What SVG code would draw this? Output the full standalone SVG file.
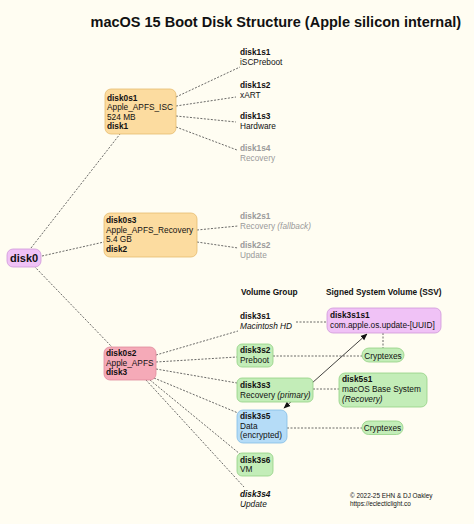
<svg xmlns="http://www.w3.org/2000/svg" width="474" height="524" viewBox="0 0 474 524">
<style>
text{font-family:"Liberation Sans",Arial,sans-serif;font-size:8.3px;fill:#111}
.b{font-weight:bold}
.i{font-style:italic}
.g{fill:#9a9a9a}
.title{font-size:14.5px;font-weight:bold}
.d{fill:none;stroke:#444;stroke-width:0.8;stroke-dasharray:2,1.5}
.orange{fill:#fcdca0;stroke:#e6bb6e;stroke-width:0.8}
.pink{fill:#f5aab8;stroke:#df8a9c;stroke-width:0.8}
.lilac{fill:#f0c2f6;stroke:#cf98d9;stroke-width:0.8}
.green{fill:#c3edb8;stroke:#93d184;stroke-width:0.8}
.blue{fill:#b5dcf7;stroke:#83bde6;stroke-width:0.8}
.c{text-anchor:middle}
</style>
<defs>
<marker id="ah" viewBox="0 0 10 10" refX="9" refY="5" markerWidth="7" markerHeight="7" orient="auto-start-reverse" markerUnits="userSpaceOnUse">
<path d="M0,1 L10,5 L0,9 z" fill="#111"/>
</marker>
</defs>
<rect width="474" height="524" fill="#fffdf2"/>
<text class="title" x="90.5" y="27">macOS 15 Boot Disk Structure (Apple silicon internal)</text>

<g id="connectors">
<path class="d" d="M31,248 L120,134"/>
<path class="d" d="M42,256 L104,242"/>
<path class="d" d="M34,266 L112,347"/>
<path class="d" d="M176,97 L240,67"/>
<path class="d" d="M176,106 L236,97"/>
<path class="d" d="M176,116 L236,122"/>
<path class="d" d="M176,127 L237,150"/>
<path class="d" d="M197,230 L238,226"/>
<path class="d" d="M197,242 L238,248"/>
<path class="d" d="M156,355 L238,331"/>
<path class="d" d="M156,362 L237,357"/>
<path class="d" d="M156,369 L237,383"/>
<path class="d" d="M154,378 L238,413"/>
<path class="d" d="M150,380 L240,454"/>
<path class="d" d="M146,380 L244,487"/>
<path class="d" d="M296,322 L327,322"/>
<path class="d" d="M273,356 L362,356"/>
<path class="d" d="M383,333 L383,348"/>
<path class="d" d="M313,389 L339,389"/>
<path class="d" d="M287,428 L362,428"/>
<path d="M284,408 L367,334" fill="none" stroke="#111" stroke-width="0.8" marker-start="url(#ah)" marker-end="url(#ah)"/>
</g>

<g id="disk0">
<rect class="lilac" x="7" y="249" width="34" height="18" rx="6"/>
<text class="b" x="10" y="262" style="font-size:11px">disk0</text>
</g>

<g id="disk0s1">
<rect class="orange" x="105" y="89" width="71" height="45" rx="6"/>
<text x="107" y="100.5" class="b">disk0s1</text>
<text x="107" y="110">Apple_APFS_ISC</text>
<text x="107" y="119.5">524 MB</text>
<text x="107" y="129" class="b">disk1</text>
</g>

<g id="disk1s1"><text x="240" y="55" class="b">disk1s1</text><text x="240" y="65">iSCPreboot</text></g>
<g id="disk1s2"><text x="240" y="88" class="b">disk1s2</text><text x="240" y="98">xART</text></g>
<g id="disk1s3"><text x="240" y="119" class="b">disk1s3</text><text x="240" y="129">Hardware</text></g>
<g id="disk1s4"><text x="240" y="150.5" class="b g">disk1s4</text><text x="240" y="160.5" class="g">Recovery</text></g>

<g id="disk0s3">
<rect class="orange" x="104" y="213" width="93" height="44" rx="6"/>
<text x="106" y="223" class="b">disk0s3</text>
<text x="106" y="232.7">Apple_APFS_Recovery</text>
<text x="106" y="242.3">5.4 GB</text>
<text x="106" y="252.3" class="b">disk2</text>
</g>

<g id="disk2s1"><text x="240" y="218.5" class="b g">disk2s1</text><text x="240" y="228.5" class="g">Recovery <tspan class="i">(fallback)</tspan></text></g>
<g id="disk2s2"><text x="240" y="247.5" class="b g">disk2s2</text><text x="240" y="257.5" class="g">Update</text></g>

<g id="disk0s2">
<rect class="pink" x="104" y="347" width="52" height="33" rx="6"/>
<text x="106" y="356" class="b">disk0s2</text>
<text x="106" y="365.7">Apple_APFS</text>
<text x="106" y="375" class="b">disk3</text>
</g>

<g id="headings">
<text x="241" y="295" class="b">Volume Group</text>
<text x="326" y="295" class="b">Signed System Volume (SSV)</text>
</g>

<g id="disk3s1"><text x="240" y="319" class="b">disk3s1</text><text x="240" y="329" class="i">Macintosh HD</text></g>

<g id="disk3s1s1">
<rect class="lilac" x="327" y="308" width="114" height="25" rx="6"/>
<text x="330" y="317.5" class="b">disk3s1s1</text>
<text x="330" y="327.5">com.apple.os.update-[UUID]</text>
</g>

<g id="disk3s2">
<rect class="green" x="237" y="344" width="36" height="23" rx="5"/>
<text x="240" y="353" class="b">disk3s2</text>
<text x="240" y="362.5">Preboot</text>
</g>

<g id="cryptexes1">
<rect class="green" x="362" y="348" width="42" height="14" rx="7"/>
<text x="383" y="358.5" class="c">Cryptexes</text>
</g>

<g id="disk3s3">
<rect class="green" x="237" y="378" width="76" height="24" rx="5"/>
<text x="240" y="388" class="b">disk3s3</text>
<text x="240" y="397.5">Recovery <tspan class="i">(primary)</tspan></text>
</g>

<g id="disk5s1">
<rect class="green" x="339" y="373" width="88" height="34" rx="6"/>
<text x="342" y="382" class="b">disk5s1</text>
<text x="342" y="392">macOS Base System</text>
<text x="342" y="401.5" class="i">(Recovery)</text>
</g>

<g id="disk3s5">
<rect class="blue" x="237" y="410" width="50" height="33" rx="6"/>
<text x="240" y="418.5" class="b">disk3s5</text>
<text x="240" y="428.5">Data</text>
<text x="240" y="438">(encrypted)</text>
</g>

<g id="cryptexes2">
<rect class="green" x="362" y="421" width="41" height="13.5" rx="6.5"/>
<text x="382.5" y="431" class="c">Cryptexes</text>
</g>

<g id="disk3s6">
<rect class="green" x="237" y="453" width="36" height="23" rx="5"/>
<text x="240" y="463" class="b">disk3s6</text>
<text x="240" y="472">VM</text>
</g>

<g id="disk3s4"><text x="240" y="497" class="b i">disk3s4</text><text x="240" y="507" class="i">Update</text></g>

<g id="credit">
<text x="350" y="498" style="font-size:6.4px">© 2022-25 EHN &amp; DJ Oakley</text>
<text x="350" y="506" style="font-size:6.4px">https://eclecticlight.co</text>
</g>
</svg>
